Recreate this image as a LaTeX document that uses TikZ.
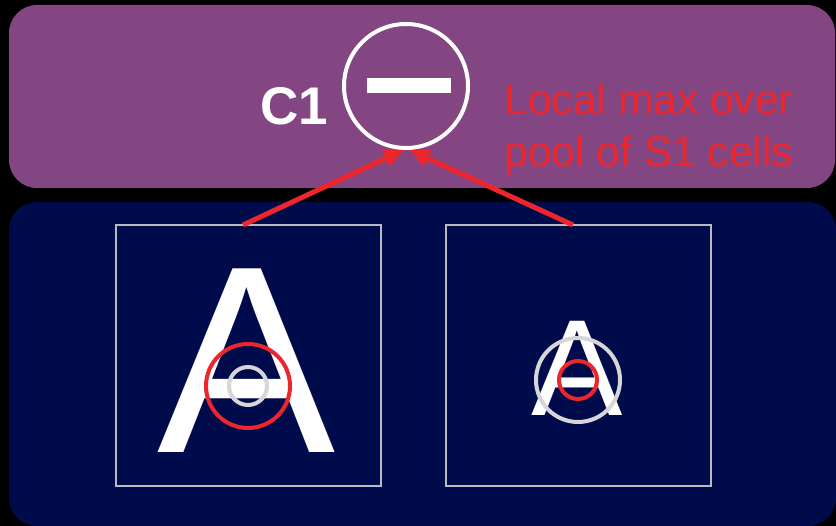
\documentclass[tikz,border=0pt]{standalone}
\usepackage{fontspec}
\setmainfont{Liberation Sans}
\usetikzlibrary{arrows.meta}
\definecolor{bgpurple}{RGB}{131,70,130}
\definecolor{bgnavy}{RGB}{0,11,76}
\definecolor{redc}{RGB}{236,38,44}
\definecolor{grayc}{RGB}{214,214,216}
\definecolor{boxgray}{RGB}{185,185,192}
\tikzset{
  panel/.style={rounded corners=28pt},
  imgbox/.style={draw=boxgray, line width=2pt, inner sep=0pt, rectangle},
  ring/.style={circle, draw, line width=4pt, inner sep=0pt},
  bigA/.style={text=white, inner sep=0pt, anchor=base, font=\fontsize{#1}{#1}\selectfont},
  feed/.style={draw=redc, line width=5pt, -{Triangle[length=20pt,width=17pt]}},
}
\begin{document}
\begin{tikzpicture}[x=1pt,y=-1pt]
\useasboundingbox (0,0) rectangle (836,526);
\fill[black] (0,0) rectangle (836,526);
% panels
\fill[bgpurple, panel] (9,5) rectangle (835,188);
\fill[bgnavy, panel] (9,202) rectangle (836,526);
% image boxes
\node[imgbox, minimum width=265pt, minimum height=261pt] (boxL) at (248.5,355.5) {};
\node[imgbox, minimum width=265pt, minimum height=261pt] (boxR) at (578.5,355.5) {};
% letters
\node[bigA=267] (AL) at (246.5,453) {A};
\node[bigA=137] (AR) at (577.5,416) {A};
% receptive field rings
\node[ring, draw=redc, minimum size=84pt] (redL) at (248,386) {};
\node[ring, draw=grayc, minimum size=38pt] (grayL) at (248,386) {};
\node[ring, draw=grayc, minimum size=84pt] (grayR) at (578,380) {};
\node[ring, draw=redc, minimum size=38pt] (redR) at (578,380) {};
% C1 unit
\node[ring, draw=white, minimum size=124pt] (c1) at (406,86) {};
\fill[white] (367,78) rectangle (451,93);
\node[text=white, inner sep=0pt, anchor=base west, font=\fontsize{53}{53}\selectfont\bfseries] (c1lab) at (260,125) {C1};
\node[text=redc, inner sep=0pt, anchor=base west, font=\fontsize{42.5}{52}\selectfont] (note1) at (504.5,114.3) {Local max over};
\node[text=redc, inner sep=0pt, anchor=base west, font=\fontsize{42.5}{52}\selectfont] (note2) at (504.5,166.7) {pool of S1 cells};
% arrows
\coordinate (srcL) at (243,225);
\coordinate (srcR) at (573,225);
\draw[feed] (srcL) -- (c1.-92);
\draw[feed] (srcR) -- (c1.-87);
\end{tikzpicture}
\end{document}
